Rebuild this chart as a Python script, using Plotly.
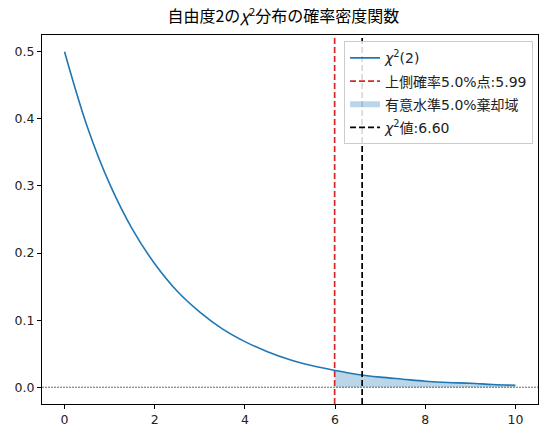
import plotly.graph_objects as go

# chi-square(2) pdf, values
x_vals = [0, 0.5, 1, 1.5, 2, 2.5, 3, 3.5, 4, 4.5, 5, 5.5, 6, 6.5, 7, 7.5, 8, 8.5, 9, 9.5, 10]
pdf_vals = [0.500, 0.389, 0.303, 0.236, 0.184, 0.143, 0.112, 0.087, 0.068, 0.053, 0.041,
            0.032, 0.025, 0.019, 0.015, 0.012, 0.009, 0.007, 0.006, 0.004, 0.003]

crit_x = 5.99      # upper 5% point
crit_pdf = 0.025
stat_x = 6.60      # observed chi2 value

x_ticks = [0, 2, 4, 6, 8, 10]
y_ticks = [0.0, 0.1, 0.2, 0.3, 0.4, 0.5]

BLUE = "#1f77b4"
FONT = "DejaVu Sans, Noto Sans CJK JP"
JP_FONT = "Noto Sans CJK JP, DejaVu Sans"

rej_x = [crit_x] + [v for v in x_vals if v > crit_x]
rej_y = [crit_pdf] + [p for v, p in zip(x_vals, pdf_vals) if v > crit_x]

fig = go.Figure()
fig.add_trace(go.Scatter(x=x_vals, y=pdf_vals, mode="lines", name="<i>χ</i><sup>2</sup>(2)",
                         line=dict(color=BLUE, width=1.6, shape="spline"),
                         legendrank=1, legendgroup="a"))
fig.add_trace(go.Scatter(x=rej_x, y=rej_y, mode="none", fill="tozeroy",
                         fillcolor="rgba(31,119,180,0.3)", line=dict(shape="spline"),
                         name="有意水準5.0%棄却域", legendrank=3, legendgroup="c"))

fig.add_shape(type="line", x0=crit_x, x1=crit_x, y0=0, y1=1, yref="paper",
              line=dict(color="#d62728", width=1.7, dash="6px,3px"),
              showlegend=True, name=f"上側確率5.0%点:{crit_x:.2f}", legendrank=2, legendgroup="b")
fig.add_shape(type="line", x0=stat_x, x1=stat_x, y0=0, y1=1, yref="paper",
              line=dict(color="black", width=1.7, dash="6px,3px"),
              showlegend=True, name=f"<i>χ</i><sup>2</sup>値:{stat_x:.2f}", legendrank=4, legendgroup="d")
fig.add_hline(y=0, line=dict(color="black", width=0.6, dash="2px,1px"))

axis_style = dict(showline=True, mirror=True, linecolor="black", linewidth=1,
                  ticks="outside", ticklen=4, tickcolor="black", showgrid=False,
                  zeroline=False, tickfont=dict(size=12.5, color="#222"))

fig.update_xaxes(range=[-0.5, 10.5], tickvals=x_ticks, **axis_style)
fig.update_yaxes(range=[-0.025, 0.525], tickvals=y_ticks, tickformat=".1f", **axis_style)

fig.update_layout(
    width=547, height=438,
    margin=dict(l=42, r=9, t=35, b=34),
    plot_bgcolor="white", paper_bgcolor="white",
    font=dict(family=FONT, size=12, color="#222"),
    title=dict(text="自由度2の<i>χ</i><sup>2</sup>分布の確率密度関数", x=0.518, xanchor="center",
               y=0.962, yanchor="middle", yref="container",
               font=dict(family=JP_FONT, size=16, color="black")),
    legend=dict(x=0.99, xanchor="right", y=0.983, yanchor="top",
                bgcolor="rgba(255,255,255,0.85)", bordercolor="#cccccc", borderwidth=1,
                font=dict(family=FONT, size=14, color="#222"), tracegroupgap=2, itemwidth=30),
)

fig.write_html("out.html", post_script="document.body.style.margin='0';",
               config={"displayModeBar": False})
